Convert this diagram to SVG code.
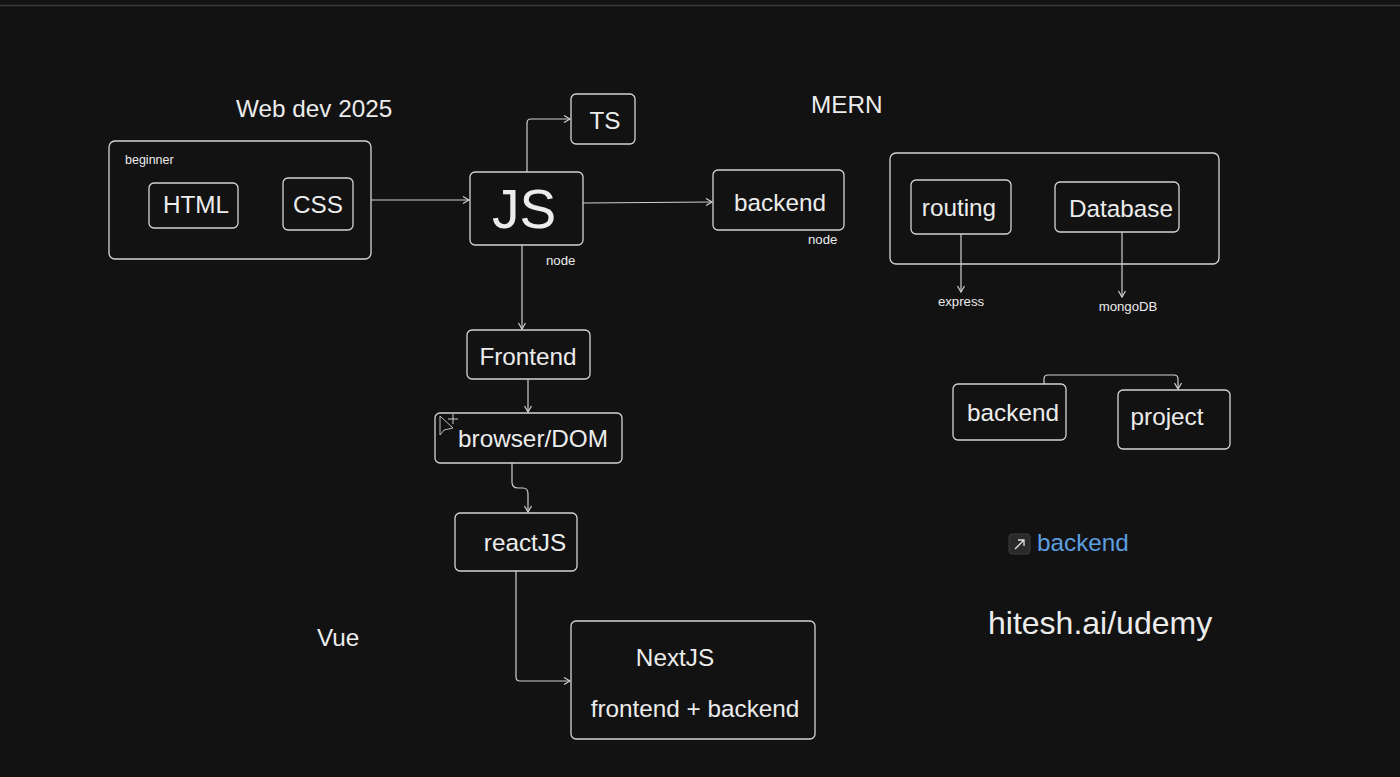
<svg xmlns="http://www.w3.org/2000/svg" width="1400" height="777" viewBox="0 0 1400 777">
<defs>
<marker id="arr" markerWidth="10" markerHeight="10" refX="8" refY="5" orient="auto" markerUnits="userSpaceOnUse">
<path d="M2,1.5 L8,5 L2,8.5" fill="none" stroke="#cfcfcf" stroke-width="1.2"/>
</marker>
</defs>
<style>
.bg{fill:#121212}
.box{fill:#121212;stroke:#d4d4d4;stroke-width:1.3}
.t{font-family:"Liberation Sans",Arial,sans-serif;fill:#ececec}
.c{text-anchor:middle}
.lg{font-size:24.3px}
.sm{font-size:13.2px}
.ln{fill:none;stroke:#cfcfcf;stroke-width:1.2}
</style>
<rect class="bg" x="0" y="0" width="1400" height="777"/>
<line x1="0" y1="5.5" x2="1400" y2="5.5" stroke="#3a3a3a" stroke-width="1.5"/>

<g id="title-webdev"><text class="t" x="236" y="117" font-size="24.3">Web dev 2025</text></g>
<g id="title-mern"><text class="t" x="811" y="113" font-size="24.3">MERN</text></g>

<g id="beginner">
<rect class="box" x="109" y="141" width="262" height="118" rx="6"/>
<text class="t" x="125" y="164" font-size="12.5">beginner</text>
</g>
<g id="html">
<rect class="box" x="149" y="183" width="89" height="45" rx="5"/>
<text class="t lg c" x="196" y="213">HTML</text>
</g>
<g id="css">
<rect class="box" x="283" y="178" width="70" height="52" rx="5"/>
<text class="t lg c" x="318" y="213">CSS</text>
</g>
<g id="js">
<rect class="box" x="470" y="172" width="113" height="73" rx="5"/>
<text class="t c" x="524" y="228" font-size="55">JS</text>
<text class="t sm" x="546" y="265">node</text>
</g>
<g id="ts">
<rect class="box" x="571" y="94" width="64" height="50" rx="5"/>
<text class="t lg c" x="605" y="129">TS</text>
</g>
<g id="backend">
<rect class="box" x="713" y="170" width="131" height="60" rx="5"/>
<text class="t lg c" x="780" y="211">backend</text>
<text class="t sm" x="808" y="244">node</text>
</g>
<g id="mern">
<rect class="box" x="890" y="153" width="329" height="111" rx="6"/>
</g>
<g id="routing">
<rect class="box" x="911" y="180" width="100" height="54" rx="5"/>
<text class="t lg c" x="959" y="216">routing</text>
<text class="t sm c" x="961" y="306">express</text>
</g>
<g id="database">
<rect class="box" x="1055" y="182" width="124" height="50" rx="5"/>
<text class="t lg c" x="1121" y="217">Database</text>
<text class="t sm c" x="1128" y="311">mongoDB</text>
</g>
<g id="frontend">
<rect class="box" x="467" y="330" width="123" height="49" rx="5"/>
<text class="t lg c" x="528" y="365">Frontend</text>
</g>
<g id="browser">
<rect class="box" x="435" y="413" width="187" height="50" rx="5"/>
<text class="t lg c" x="533" y="447">browser/DOM</text>
<path d="M440,416 L440,435 L444,430 L453,428 Z" fill="none" stroke="#bbbbbb" stroke-width="1"/>
<g stroke="#cccccc" stroke-width="1" fill="none">
<line x1="453" y1="414" x2="453" y2="424"/><line x1="448" y1="419" x2="458" y2="419"/>
</g>
</g>
<g id="reactjs">
<rect class="box" x="455" y="513" width="122" height="58" rx="5"/>
<text class="t lg c" x="525" y="551">reactJS</text>
</g>
<g id="nextjs">
<rect class="box" x="571" y="621" width="244" height="118" rx="5"/>
<text class="t lg c" x="675" y="666">NextJS</text>
<text class="t lg c" x="695" y="717">frontend + backend</text>
</g>
<g id="vue"><text class="t lg" x="317" y="646">Vue</text></g>
<g id="backend2">
<rect class="box" x="953" y="384" width="113" height="56" rx="5"/>
<text class="t lg c" x="1013" y="421">backend</text>
</g>
<g id="project">
<rect class="box" x="1118" y="390" width="112" height="59" rx="5"/>
<text class="t lg c" x="1167" y="425">project</text>
</g>
<g id="link">
<rect x="1009" y="534" width="21" height="20" rx="3" fill="#2a2a2a" stroke="#3c3c3c" stroke-width="1"/>
<path d="M1015,549 L1024,540 M1018,540 L1024,540 L1024,546" fill="none" stroke="#e0e0e0" stroke-width="1.3"/>
<text x="1037" y="551" font-family="'Liberation Sans',Arial,sans-serif" font-size="24.3" fill="#5c9ee0">backend</text>
</g>
<g id="hitesh"><text class="t" x="988" y="634" font-size="32">hitesh.ai/udemy</text></g>

<g id="connectors">
<line class="ln" x1="371" y1="200" x2="469" y2="200" marker-end="url(#arr)"/>
<path class="ln" d="M527,172 L527,123 Q527,119 531,119 L570,119" marker-end="url(#arr)"/>
<line class="ln" x1="583" y1="203" x2="712" y2="202" marker-end="url(#arr)"/>
<line class="ln" x1="522" y1="245" x2="522" y2="329" marker-end="url(#arr)"/>
<line class="ln" x1="528" y1="379" x2="528" y2="412" marker-end="url(#arr)"/>
<path class="ln" d="M512,463 L512,482 Q512,488 518,488 L523,488 Q528,488 528,494 L528,512" marker-end="url(#arr)"/>
<path class="ln" d="M516,571 L516,677 Q516,681 520,681 L570,681" marker-end="url(#arr)"/>
<line class="ln" x1="961" y1="234" x2="961" y2="292" marker-end="url(#arr)"/>
<line class="ln" x1="1122" y1="232" x2="1122" y2="297" marker-end="url(#arr)"/>
<path class="ln" d="M1044,384 L1044,379 Q1044,375 1048,375 L1174,375 Q1178,375 1178,379 L1178,389" marker-end="url(#arr)"/>
</g>
</svg>
